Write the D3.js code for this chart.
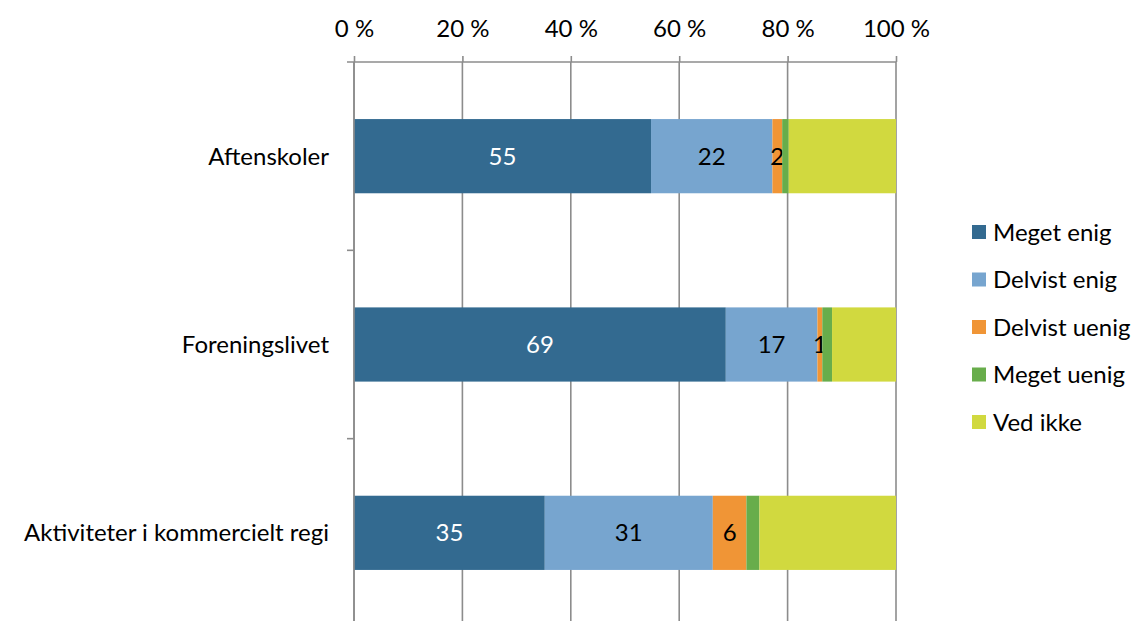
<!DOCTYPE html>
<html><head><meta charset="utf-8">
<script src="https://cdn.jsdelivr.net/npm/d3@7"></script>
<style>body{margin:0;background:#fff}svg{display:block;font-family:Lato,"Open Sans",sans-serif}</style>
</head><body>
<svg id="c" width="1134" height="621"></svg>
<script>
const categories = ["Aftenskoler", "Foreningslivet", "Aktiviteter i kommercielt regi"];
const seriesNames = ["Meget enig", "Delvist enig", "Delvist uenig", "Meget uenig", "Ved ikke"];
const megetEnig   = [54.8, 68.6, 35.2];
const delvistEnig = [22.4, 16.9, 31.0];
const delvistUenig= [1.8, 0.9, 6.2];
const megetUenig  = [1.2, 1.8, 2.4];
const vedIkke     = [19.8, 11.8, 25.2];
const tickValues  = [0, 20, 40, 60, 80, 100];
const colors = ["#336a90", "#77a5cf", "#f09536", "#68ad4b", "#d1d93f"];
const labeled = [true, true, true, false, false];
const labelColors = ["#fff", "#000", "#000", "#000", "#000"];

(function () {
const FS = 24;
const seriesVals = [megetEnig, delvistEnig, delvistUenig, megetUenig, vedIkke];
const rows = categories.map((c, i) => {
  const r = {cat: c};
  seriesNames.forEach((s, j) => r[s] = seriesVals[j][i]);
  return r;
});
const stacked = d3.stack().keys(seriesNames)(rows);

const svg = d3.select("#c");
const pLeft = 354, pRight = 896, pTop = 62, pBottom = 627;
const x = d3.scaleLinear().domain([0, 100]).range([pLeft, pRight]);
const y = d3.scaleBand().domain(categories).range([pTop, pBottom]).paddingInner(0.606).paddingOuter(0.303);

// gridlines
svg.append("g").selectAll("line").data(tickValues).join("line")
  .attr("x1", d => x(d)).attr("x2", d => x(d))
  .attr("y1", pTop).attr("y2", 621)
  .attr("stroke", "#8c8c8c").attr("stroke-width", 1.6);

// bars
const g = svg.append("g");
stacked.forEach((layer, j) => {
  g.append("g").selectAll("rect").data(layer).join("rect")
    .attr("x", d => x(d[0])).attr("width", d => x(d[1]) - x(d[0]))
    .attr("y", d => y(d.data.cat)).attr("height", y.bandwidth())
    .attr("fill", colors[j]);
  if (labeled[j]) {
    g.append("g").selectAll("text").data(layer).join("text")
      .attr("x", d => (x(d[0]) + x(d[1])) / 2)
      .attr("y", d => y(d.data.cat) + y.bandwidth() / 2)
      .attr("dy", "0.36em").attr("text-anchor", "middle")
      .attr("font-size", FS).attr("fill", labelColors[j])
      .text(d => Math.round(d[1] - d[0]));
  }
});

// top axis
const xAxis = d3.axisTop(x).tickValues(tickValues).tickFormat(d => d + " %").tickSize(6).tickPadding(19);
const ax = svg.append("g").attr("transform", `translate(0,${pTop})`).call(xAxis);
ax.select(".domain").attr("stroke", "#8c8c8c").attr("stroke-width", 1.6).attr("d", `M${pLeft - 7},0H${pRight}`);
ax.selectAll(".tick line").attr("stroke", "#8c8c8c").attr("stroke-width", 1.6);
ax.selectAll("text").attr("font-size", FS).attr("fill", "#000").attr("font-family", "Lato,sans-serif");

// left axis
const boundaries = [0, 1, 2, 3].map(i => pTop + i * y.step());
svg.append("line").attr("x1", pLeft).attr("x2", pLeft).attr("y1", pTop).attr("y2", 621)
  .attr("stroke", "#8c8c8c").attr("stroke-width", 1.6);
svg.append("g").selectAll("line").data(boundaries.slice(1)).join("line")
  .attr("x1", pLeft - 7).attr("x2", pLeft).attr("y1", d => d).attr("y2", d => d)
  .attr("stroke", "#8c8c8c").attr("stroke-width", 1.6);
svg.append("g").selectAll("text").data(categories).join("text")
  .attr("x", 329).attr("y", d => y(d) + y.bandwidth() / 2).attr("dy", "0.36em")
  .attr("text-anchor", "end").attr("font-size", FS).attr("fill", "#000").text(d => d);

// legend
const lg = svg.append("g").selectAll("g").data(seriesNames).join("g")
  .attr("transform", (d, i) => `translate(972,${232 + i * 47.5})`);
lg.append("rect").attr("x", 0).attr("y", -7).attr("width", 14).attr("height", 14).attr("fill", (d, i) => colors[i]);
lg.append("text").attr("x", 21).attr("dy", "0.36em").attr("font-size", FS).attr("fill", "#000").text(d => d);
})();
</script>
</body></html>
